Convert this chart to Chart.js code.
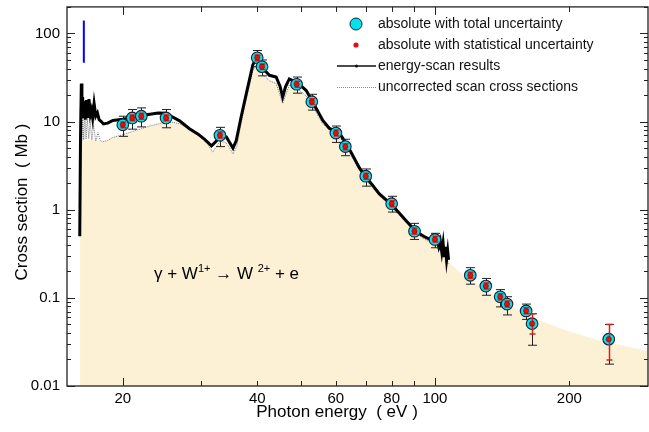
<!DOCTYPE html>
<html>
<head>
    <title>W1+ photoionization cross section</title>
    <script src="https://cdn.jsdelivr.net/npm/chart.js"></script>
    <style>
        body { margin: 0; background: #fff; }
        #wrap { width: 649px; height: 432px; }
    </style>
</head>
<body>
<div id="wrap"><canvas id="xsChart" width="649" height="432"></canvas></div>
<script>
    // absolute measurements (eV, Mb) with total and statistical error limits
    const absEnergy = [20, 21, 22, 25, 33, 40, 41, 49, 53, 60, 63, 70, 80, 90, 100, 120, 130, 140, 145, 160, 165, 245];
    const absValue  = [9.2, 11.0, 11.5, 11.0, 7.0, 53, 42, 26.5, 16.8, 7.4, 5.2, 2.4, 1.17, 0.57, 0.46, 0.18, 0.136, 0.103, 0.085, 0.071, 0.051, 0.034];
    const totHigh   = [11.5, 13.7, 14.3, 13.7, 8.6, 64, 50, 32, 20.4, 8.9, 6.3, 2.9, 1.42, 0.70, 0.54, 0.22, 0.166, 0.124, 0.103, 0.085, 0.066, 0.050];
    const totLow    = [6.8, 8.2, 8.7, 8.5, 5.2, 42, 33, 21, 13.5, 5.8, 4.1, 1.85, 0.94, 0.46, 0.37, 0.143, 0.107, 0.079, 0.064, 0.057, 0.029, 0.0177];
    const statHigh  = [9.9, 11.9, 12.4, 11.9, 7.6, 57, 45, 28.6, 18.1, 8.0, 5.6, 2.6, 1.26, 0.62, 0.50, 0.195, 0.147, 0.111, 0.092, 0.077, 0.066, 0.050];
    const statLow   = [8.5, 10.2, 10.6, 10.2, 6.5, 49, 39, 24.5, 15.6, 6.85, 4.8, 2.22, 1.08, 0.53, 0.43, 0.167, 0.126, 0.095, 0.079, 0.066, 0.039, 0.0197];

    // energy-scan results
    const scanEnergy = [16.02, 16.08, 16.15, 16.2, 16.26, 16.32, 16.4, 16.48, 16.58, 16.68, 16.8, 16.92, 17.02, 17.12, 17.25, 17.4, 17.55, 17.7, 17.9, 18.1,
        18.5, 19, 20, 21, 22, 23, 24, 25, 25.5, 26.8, 28.2, 29.5, 30.5, 31.6, 32.4, 33, 34.1, 34.7, 35.3, 35.9,
        36.8, 37.8, 39.1, 40.1, 41.2, 42.6, 44.1, 45, 45.6, 46.3, 47.2, 48.9, 50.3, 51.5, 53.2, 56.1, 58, 59.5, 61.6, 64.3,
        67.7, 70, 72.5, 75, 78, 80.3, 83, 86, 89, 92, 95, 98.6, 100, 101, 102, 102.8, 103.6, 104.3, 105, 105.6, 106.2, 106.8, 107.3];
    const scanValue = [0.5, 6, 27, 12, 19, 11, 17, 10.5, 17.5, 11, 18, 12, 13.5, 11, 16, 11.5, 12.5, 10.5, 10, 9.4,
        9.6, 10.3, 10.6, 11.1, 11.7, 12.1, 12.5, 12.4, 11.7, 10.2, 8.3, 7.2, 6.3, 5.3, 6.0, 6.9, 6.7, 5.8, 5.0, 6.1,
        11.2, 20.6, 44, 55, 40, 33.5, 32, 25, 19, 25, 30.5, 28, 25, 22.5, 16.8, 10.3, 8.4, 7.9, 7.0, 4.9,
        3.0, 2.35, 1.9, 1.52, 1.28, 1.12, 0.93, 0.76, 0.63, 0.54, 0.49, 0.45, 0.43, 0.47, 0.38, 0.44, 0.33, 0.42, 0.29, 0.38, 0.27, 0.34, 0.27];

    // uncorrected scan cross sections
    const uncEnergy = [16.03, 16.06, 16.1, 16.15, 16.2, 16.27, 16.35, 16.45, 16.55, 16.65, 16.78, 16.9, 17.05, 17.2, 17.4, 17.6, 17.8, 18.0,
        18.5, 19, 20, 21, 22, 23, 24, 25, 26, 27, 28, 29, 30, 31, 31.8, 32.5, 33, 34, 34.7, 35.3, 36,
        36.8, 37.8, 39.1, 40.1, 41.2, 42.6, 44.1, 45.6, 47.2, 48.9, 51.5, 53.2, 56.1, 59.5, 61.6, 64.3,
        67.7, 70, 72, 75, 78, 80.3, 83, 86, 89, 92, 95, 98.6, 100, 101, 102, 103, 104, 105, 105.6, 106.3, 107];
    const uncValue = [0.6, 14, 5.5, 15, 6, 13, 6.2, 12, 6.3, 11, 6.4, 10, 6.2, 9, 6.0, 7.5, 6.1, 5.9,
        6.1, 6.6, 7.1, 7.7, 8.3, 8.9, 9.4, 9.9, 9.8, 9.3, 8.3, 7.4, 6.5, 5.5, 4.5, 5.3, 6.0, 5.8, 5.0, 4.3, 5.2,
        9.5, 18, 38, 46, 34, 29, 27, 16, 26, 24.5, 19.5, 15, 9.4, 7.2, 6.4, 4.5,
        2.8, 2.2, 1.85, 1.45, 1.2, 1.05, 0.88, 0.72, 0.6, 0.51, 0.46, 0.42, 0.38, 0.43, 0.34, 0.40, 0.29, 0.36, 0.25, 0.33, 0.24];

    // shaded cross-section area
    const fillEnergy = [16.05, 16.5, 17, 18, 19, 20, 22, 24, 25, 26, 27, 28, 29, 30, 31, 31.8, 33, 34, 35.3, 36, 36.8, 37.8, 39.1, 40.1, 41.2,
        42.6, 44.1, 45.6, 47.2, 48.9, 51.5, 53.2, 56.1, 59.5, 61.6, 64.3, 67.7, 70, 75, 80.3, 86, 92, 98.6, 103, 107.5, 117, 139, 165, 196, 232, 300];
    const fillValue = [6.0, 6.1, 6.2, 5.9, 6.6, 7.1, 8.3, 9.4, 9.9, 9.8, 9.3, 8.3, 7.4, 6.5, 5.5, 4.5, 6.0, 5.8, 4.3, 5.2, 9.5, 18, 38, 46, 34,
        29, 27, 16, 26, 24.5, 19.5, 15, 9.4, 7.2, 6.4, 4.5, 2.8, 2.2, 1.45, 1.05, 0.72, 0.51, 0.42, 0.35, 0.25, 0.174, 0.098, 0.060, 0.043, 0.033, 0.025];

    // blue marker
    const markEnergy = [16.36, 16.36];
    const markValue = [46.5, 140];

    const xTickLabels = [20, 40, 60, 80, 100, 200];
    const xTickMarks = [20, 30, 40, 50, 60, 70, 80, 90, 100, 200];
    const yTickLabels = [0.01, 0.1, 1, 10, 100];

    const FONT = "'Liberation Sans', Arial, sans-serif";
    const PLOT_RIGHT = 648;

    function pts(xs, ys) {
        return xs.map((x, i) => ({ x: x, y: ys[i] }));
    }

    const errLimits = {
        total: { lo: totLow, hi: totHigh, color: '#222', width: 1, cap: 4.5 },
        stat: { lo: statLow, hi: statHigh, color: '#d42020', width: 1.5, cap: 3 }
    };

    // stretch the plot area to the right border like the original figure
    const stretch = {
        id: 'stretch',
        afterLayout(chart) {
            const a = chart.chartArea;
            if (Math.abs(a.right - PLOT_RIGHT) < 0.5) return;
            a.right = PLOT_RIGHT;
            a.width = a.right - a.left;
            const s = chart.scales.x;
            s.right = PLOT_RIGHT;
            s.width = s.right - s.left;
            s.configure();
        }
    };

    // error bars drawn just before their marker dataset
    const errorBars = {
        id: 'errorBars',
        beforeDatasetDraw(chart, args) {
            const ds = chart.data.datasets[args.index];
            const e = errLimits[ds.errKey];
            if (!e) return;
            const ctx = chart.ctx, xs = chart.scales.x, ys = chart.scales.y;
            ctx.save();
            ctx.strokeStyle = e.color;
            ctx.lineWidth = e.width;
            ds.data.forEach((p, i) => {
                const px = Math.round(xs.getPixelForValue(p.x)) + 0.5;
                const top = ys.getPixelForValue(e.hi[i]);
                const bot = ys.getPixelForValue(e.lo[i]);
                ctx.beginPath();
                ctx.moveTo(px, top); ctx.lineTo(px, bot);
                ctx.moveTo(px - e.cap, top); ctx.lineTo(px + e.cap, top);
                ctx.moveTo(px - e.cap, bot); ctx.lineTo(px + e.cap, bot);
                ctx.stroke();
            });
            ctx.restore();
        }
    };

    // frame, inward ticks, legend, titles, reaction label
    const decorations = {
        id: 'decorations',
        afterDatasetsDraw(chart) {
            const { ctx, chartArea: a, scales: { x, y } } = chart;
            ctx.save();
            ctx.strokeStyle = '#222';
            ctx.lineWidth = 1.3;
            ctx.strokeRect(a.left, a.top, a.right - a.left, a.bottom - a.top);

            ctx.lineWidth = 1;
            ctx.beginPath();
            xTickMarks.forEach(v => {
                const px = Math.round(x.getPixelForValue(v)) + 0.5;
                const len = (v === 20 || v === 100) ? 8 : 5;
                ctx.moveTo(px, a.bottom); ctx.lineTo(px, a.bottom - len);
                ctx.moveTo(px, a.top); ctx.lineTo(px, a.top + len);
            });
            for (let d = -2; d <= 2; d++) {
                for (let m = 1; m <= 9; m++) {
                    const v = m * Math.pow(10, d);
                    if (v > 200) break;
                    const py = Math.round(y.getPixelForValue(v)) + 0.5;
                    const len = m === 1 ? 8 : 4;
                    ctx.moveTo(a.left, py); ctx.lineTo(a.left + len, py);
                    ctx.moveTo(a.right, py); ctx.lineTo(a.right - len, py);
                }
            }
            ctx.stroke();

            // legend
            ctx.fillStyle = '#111';
            ctx.font = '14px ' + FONT;
            ctx.textBaseline = 'middle';
            ctx.textAlign = 'left';
            const lx = 378;
            const rows = [24, 45, 66, 87];
            ctx.fillText('absolute with total uncertainty', lx, rows[0]);
            ctx.fillText('absolute with statistical uncertainty', lx, rows[1]);
            ctx.fillText('energy-scan results', lx, rows[2]);
            ctx.fillText('uncorrected scan cross sections', lx, rows[3]);

            ctx.beginPath();
            ctx.arc(356, rows[0], 6, 0, 2 * Math.PI);
            ctx.fillStyle = '#00e3ee';
            ctx.fill();
            ctx.strokeStyle = '#123';
            ctx.lineWidth = 1;
            ctx.stroke();

            ctx.beginPath();
            ctx.arc(356, rows[1], 2.6, 0, 2 * Math.PI);
            ctx.fillStyle = '#e01010';
            ctx.fill();

            ctx.strokeStyle = '#111';
            ctx.lineWidth = 1.5;
            ctx.beginPath();
            ctx.moveTo(337, rows[2]); ctx.lineTo(376, rows[2]);
            ctx.stroke();
            ctx.beginPath();
            ctx.arc(356.5, rows[2], 1.6, 0, 2 * Math.PI);
            ctx.fillStyle = '#111';
            ctx.fill();

            ctx.strokeStyle = '#888';
            ctx.lineWidth = 1;
            ctx.setLineDash([1, 1]);
            ctx.beginPath();
            ctx.moveTo(337, rows[3] + 0.5); ctx.lineTo(376, rows[3] + 0.5);
            ctx.stroke();
            ctx.setLineDash([]);

            // axis titles
            ctx.fillStyle = '#000';
            ctx.font = '17px ' + FONT;
            ctx.textAlign = 'center';
            ctx.fillText('Photon energy  ( eV )', 337, 412);
            ctx.save();
            ctx.translate(22, 202);
            ctx.rotate(-Math.PI / 2);
            ctx.fillText('Cross section  ( Mb )', 0, 0);
            ctx.restore();

            // reaction label
            ctx.textAlign = 'left';
            ctx.textBaseline = 'alphabetic';
            let tx = 154;
            const base = 279;
            const parts = [
                ['\u03b3 + W', 17, 0],
                ['1+', 11, -7],
                [' \u2192 W ', 17, 0],
                ['2+', 11, -7],
                [' + e', 17, 0]
            ];
            parts.forEach(p => {
                ctx.font = p[1] + 'px ' + FONT;
                ctx.fillText(p[0], tx, base + p[2]);
                tx += ctx.measureText(p[0]).width;
            });
            ctx.restore();
        }
    };

    const chart = new Chart(document.getElementById('xsChart').getContext('2d'), {
        type: 'line',
        data: {
            datasets: [
                {
                    label: 'statistical',
                    errKey: 'stat',
                    data: pts(absEnergy, absValue),
                    showLine: false,
                    pointRadius: 2.6,
                    pointBackgroundColor: '#e01010',
                    pointBorderColor: '#8a0000',
                    pointBorderWidth: 0.6,
                    order: 1
                },
                {
                    label: 'total',
                    errKey: 'total',
                    data: pts(absEnergy, absValue),
                    showLine: false,
                    pointRadius: 5.8,
                    pointBackgroundColor: '#00e3ee',
                    pointBorderColor: '#123',
                    pointBorderWidth: 1.1,
                    order: 2
                },
                {
                    label: 'energy-scan results',
                    data: pts(scanEnergy, scanValue),
                    borderColor: '#000',
                    borderWidth: 3,
                    pointRadius: 0,
                    tension: 0,
                    order: 3
                },
                {
                    label: 'uncorrected scan cross sections',
                    data: pts(uncEnergy, uncValue),
                    borderColor: '#777',
                    borderWidth: 1,
                    borderDash: [1, 1],
                    pointRadius: 0,
                    tension: 0,
                    order: 4
                },
                {
                    label: 'marker',
                    data: pts(markEnergy, markValue),
                    borderColor: '#0000ff',
                    borderWidth: 2,
                    pointRadius: 0,
                    order: 5
                },
                {
                    label: 'area',
                    data: pts(fillEnergy, fillValue),
                    borderWidth: 0,
                    borderColor: 'rgba(0,0,0,0)',
                    backgroundColor: '#fdf1d5',
                    fill: 'start',
                    pointRadius: 0,
                    tension: 0,
                    order: 6
                }
            ]
        },
        options: {
            responsive: false,
            animation: false,
            layout: { padding: { top: 6, right: 1, left: 0, bottom: 0 } },
            plugins: {
                legend: { display: false },
                tooltip: { enabled: false }
            },
            scales: {
                x: {
                    type: 'logarithmic',
                    min: 15,
                    max: 300,
                    grid: { display: false, drawTicks: false },
                    border: { display: false },
                    afterBuildTicks: s => { s.ticks = xTickLabels.map(v => ({ value: v })); },
                    afterFit: s => {
                        s.height = 46;
                        s.paddingLeft = 0;
                        s.paddingRight = 0;
                    },
                    ticks: {
                        autoSkip: false,
                        maxRotation: 0,
                        padding: 4,
                        color: '#000',
                        font: { family: FONT, size: 15 },
                        callback: v => String(v)
                    }
                },
                y: {
                    type: 'logarithmic',
                    min: 0.01,
                    max: 200,
                    grid: { display: false, drawTicks: false },
                    border: { display: false },
                    afterBuildTicks: s => { s.ticks = yTickLabels.map(v => ({ value: v })); },
                    afterFit: s => {
                        s.width = 67;
                        s.paddingTop = 0;
                        s.paddingBottom = 0;
                    },
                    ticks: {
                        autoSkip: false,
                        padding: 7,
                        color: '#000',
                        font: { family: FONT, size: 15 },
                        callback: v => String(v)
                    }
                }
            }
        },
        plugins: [stretch, errorBars, decorations]
    });
</script>
</body>
</html>
